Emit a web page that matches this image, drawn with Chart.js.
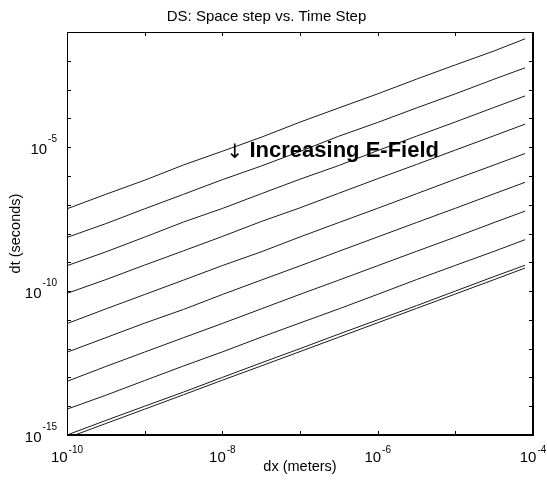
<!DOCTYPE html>
<html>
<head>
<meta charset="utf-8">
<script src="https://cdn.jsdelivr.net/npm/chart.js@4/dist/chart.umd.min.js"></script>
<style>
  html, body { margin: 0; padding: 0; background: #fff; }
  #wrap { width: 547px; height: 484px; }
</style>
</head>
<body>
<div id="wrap"><canvas id="c" width="547" height="484"></canvas></div>
<script>
// ---- data ----
const dxValues = [1e-10, 3.16e-10, 1e-9, 3.16e-9, 1e-8, 3.16e-8, 1e-7, 3.16e-7, 1e-6, 3.16e-6, 1e-5, 3.16e-5, 7.9e-5];

const dtLine1  = [7.2e-8, 2.3e-7, 7.1e-7, 2.4e-6, 7.2e-6, 2.2e-5, 7.4e-5, 2.3e-4, 7.1e-4, 2.3e-3, 7.2e-3, 2.2e-2, 5.8e-2];
const dtLine2  = [7.3e-9, 2.2e-8, 7.2e-8, 2.3e-7, 7.4e-7, 2.2e-6, 7.1e-6, 2.4e-5, 7.2e-5, 2.3e-4, 7.1e-4, 2.3e-3, 5.7e-3];
const dtLine3  = [7.6e-10, 2.3e-9, 7.5e-9, 2.5e-8, 7.4e-8, 2.4e-7, 7.7e-7, 2.3e-6, 7.6e-6, 2.4e-5, 7.5e-5, 2.4e-4, 6.0e-4];
const dtLine4  = [8.3e-11, 2.5e-10, 8.0e-10, 2.5e-9, 7.9e-9, 2.6e-8, 7.8e-8, 2.5e-7, 8.0e-7, 2.5e-6, 7.9e-6, 2.5e-5, 6.3e-5];
const dtLine5  = [7.4e-12, 2.4e-11, 7.6e-11, 2.4e-10, 7.7e-10, 2.3e-9, 7.6e-9, 2.4e-8, 7.5e-8, 2.4e-7, 7.7e-7, 2.4e-6, 6.0e-6];
const dtLine6  = [7.5e-13, 2.4e-12, 7.7e-12, 2.3e-11, 7.6e-11, 2.4e-10, 7.5e-10, 2.4e-9, 7.6e-9, 2.4e-8, 7.5e-8, 2.4e-7, 6.0e-7];
const dtLine7  = [7.3e-14, 2.4e-13, 7.6e-13, 2.4e-12, 7.5e-12, 2.4e-11, 7.7e-11, 2.4e-10, 7.6e-10, 2.4e-9, 7.5e-9, 2.4e-8, 6.0e-8];
const dtLine8  = [7.9e-15, 2.4e-14, 7.8e-14, 2.5e-13, 7.7e-13, 2.5e-12, 7.8e-12, 2.4e-11, 7.7e-11, 2.5e-10, 7.8e-10, 2.4e-9, 6.1e-9];
const dtLine9  = [1.0e-15, 3.2e-15, 1.0e-14, 3.1e-14, 1.0e-13, 3.2e-13, 1.0e-12, 3.2e-12, 1.0e-11, 3.1e-11, 1.0e-10, 3.2e-10, 7.9e-10];
const dtLine10 = [7.9e-16, 2.5e-15, 7.9e-15, 2.5e-14, 8.0e-14, 2.5e-13, 7.9e-13, 2.5e-12, 7.9e-12, 2.5e-11, 7.9e-11, 2.5e-10, 6.3e-10];

const allLines = [dtLine1, dtLine2, dtLine3, dtLine4, dtLine5, dtLine6, dtLine7, dtLine8, dtLine9, dtLine10];

const xTickValues = [1e-10, 1e-9, 1e-8, 1e-7, 1e-6, 1e-5, 1e-4];
const xLabelExps  = [-10, -8, -6, -4];
const yTickValues = [1e-15,1e-14,1e-13,1e-12,1e-11,1e-10,1e-9,1e-8,1e-7,1e-6,1e-5,1e-4,1e-3,1e-2,1e-1];
const yLabelExps  = [-15, -10, -5];

const chartTitle = 'DS: Space step vs. Time Step';
const xTitle = 'dx (meters)';
const yTitle = 'dt (seconds)';
const annotationArrow = '\u2193';
const annotationText = 'Increasing E-Field';
const annotationAt = { x: 1.2e-8, y: 4.7e-6 };

const FONT = "'Liberation Sans', Arial, sans-serif";

const datasets = allLines.map(arr => ({
  data: arr.map((v, i) => ({ x: dxValues[i], y: v })),
  showLine: true,
  borderColor: '#1a1a1a',
  borderWidth: 1,
  pointRadius: 0,
  tension: 0,
  fill: false
}));

const framePlugin = {
  id: 'frame',
  afterDraw(chart) {
    const ctx = chart.ctx;
    const a = chart.chartArea;
    const xs = chart.scales.x, ys = chart.scales.y;
    ctx.save();
    ctx.strokeStyle = '#000';
    // frame
    ctx.lineWidth = 1;
    ctx.beginPath();
    ctx.moveTo(a.left + 0.5, a.bottom); ctx.lineTo(a.left + 0.5, a.top + 0.5); ctx.lineTo(a.right, a.top + 0.5);
    ctx.stroke();
    ctx.lineWidth = 2;
    ctx.beginPath();
    ctx.moveTo(a.left, a.bottom); ctx.lineTo(a.right, a.bottom); ctx.lineTo(a.right, a.top);
    ctx.stroke();
    // inward ticks
    ctx.lineWidth = 1;
    const tl = 4;
    ctx.beginPath();
    xTickValues.forEach(v => {
      const px = Math.round(xs.getPixelForValue(v)) + 0.5;
      ctx.moveTo(px, a.bottom); ctx.lineTo(px, a.bottom - tl);
      ctx.moveTo(px, a.top); ctx.lineTo(px, a.top + tl);
    });
    yTickValues.forEach(v => {
      const py = Math.round(ys.getPixelForValue(v)) + 0.5;
      ctx.moveTo(a.left, py); ctx.lineTo(a.left + tl, py);
      ctx.moveTo(a.right, py); ctx.lineTo(a.right - tl, py);
    });
    ctx.stroke();

    // tick labels with superscript exponent
    ctx.fillStyle = '#000';
    ctx.textBaseline = 'alphabetic';
    const baseFont = '15px ' + FONT, expFont = '10px ' + FONT;
    function measure(exp) {
      ctx.font = baseFont; const w1 = ctx.measureText('10').width;
      ctx.font = expFont; const w2 = ctx.measureText(String(exp)).width;
      return [w1, w2];
    }
    function drawPow(exp, x, yBase, yExp) {
      const [w1] = measure(exp);
      ctx.font = baseFont; ctx.textAlign = 'left'; ctx.fillText('10', x, yBase);
      ctx.font = expFont; ctx.fillText(String(exp), x + w1 + 1, yExp);
    }
    xLabelExps.forEach(e => {
      const px = xs.getPixelForValue(Math.pow(10, e));
      const [w1, w2] = measure(e);
      const total = w1 + 1 + w2;
      drawPow(e, px - total / 2, a.bottom + 27, a.bottom + 18);
    });
    yLabelExps.forEach(e => {
      const py = ys.getPixelForValue(Math.pow(10, e));
      const [w1, w2] = measure(e);
      const total = w1 + 1 + w2;
      drawPow(e, a.left - 10 - total, py + 7, py - 5);
    });

    // annotation
    const ax = xs.getPixelForValue(annotationAt.x), ay = ys.getPixelForValue(annotationAt.y);
    ctx.textAlign = 'left';
    ctx.font = "20px 'DejaVu Sans', sans-serif";
    ctx.fillText(annotationArrow, ax - 2, ay + 1);
    ctx.font = 'bold 22px ' + FONT;
    ctx.fillText(annotationText, ax + 21, ay);
    ctx.restore();
  }
};

new Chart(document.getElementById('c'), {
  type: 'scatter',
  data: { datasets },
  options: {
    responsive: false,
    animation: false,
    events: [],
    layout: { padding: { left: 0, right: 14, top: 0, bottom: 0 } },
    plugins: {
      legend: { display: false },
      tooltip: { enabled: false },
      title: {
        display: true,
        text: chartTitle,
        color: '#000',
        font: { family: FONT, size: 15, weight: 'normal' },
        padding: { top: 8, bottom: 6 }
      }
    },
    scales: {
      x: {
        type: 'logarithmic',
        min: 1e-10, max: 1e-4,
        grid: { display: false },
        border: { display: false },
        ticks: { display: false },
        title: { display: true, text: xTitle, color: '#000', font: { family: FONT, size: 14.5 }, padding: { top: 0, bottom: 8 } },
        afterFit(s) { s.height = 49; }
      },
      y: {
        type: 'logarithmic',
        min: 1e-15, max: 1e-1,
        grid: { display: false },
        border: { display: false },
        ticks: { display: false },
        title: { display: true, text: yTitle, color: '#000', font: { family: FONT, size: 14.5 }, padding: { top: 7, bottom: 0 } },
        afterFit(s) { s.width = 67; }
      }
    }
  },
  plugins: [framePlugin]
});
</script>
</body>
</html>
